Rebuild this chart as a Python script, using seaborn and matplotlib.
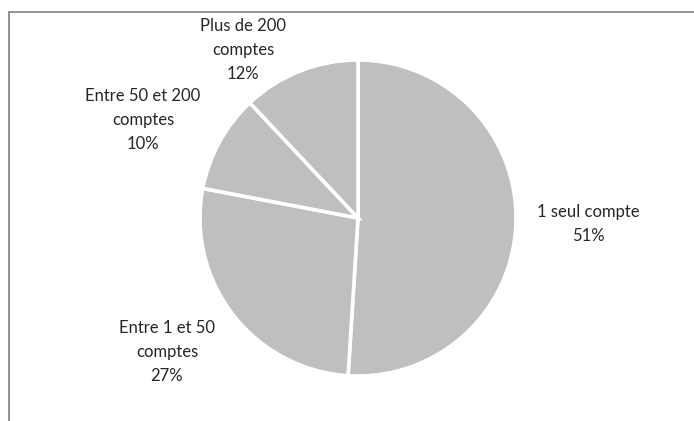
import matplotlib
matplotlib.use("Agg")
import matplotlib.pyplot as plt
from matplotlib.lines import Line2D
import seaborn as sns

# Répartition des clients selon le nombre de comptes
categories = ["1 seul compte", "Entre 1 et 50\ncomptes", "Entre 50 et 200\ncomptes", "Plus de 200\ncomptes"]
shares = [51, 27, 10, 12]

sns.set_style("white")
plt.rcParams["font.family"] = ["Lato", "DejaVu Sans"]

W, H = 694, 421
fig = plt.figure(figsize=(W / 100, H / 100), dpi=100)
ax = fig.add_axes([0, 0, 1, 1])

ax.pie(
    shares,
    startangle=90,
    counterclock=False,
    colors=["#BFBFBF"] * len(shares),
    wedgeprops=dict(edgecolor="white", linewidth=2.6),
    center=(358, H - 218),
    radius=158,
    frame=True,
)

# Label anchors (pixel space, top-left origin)
label_pos = [(588, 224), (167, 352), (143, 120), (243, 50)]
for cat, val, (x, y) in zip(categories, shares, label_pos):
    ax.text(x, H - y, f"{cat}\n{val}%", ha="center", va="center",
            fontsize=12, color="#262626", linespacing=1.6)

ax.set_xlim(0, W)
ax.set_ylim(0, H)
ax.set_aspect("equal")
ax.axis("off")

# Chart area frame (left and top edges)
frame_kw = dict(color="#8a8a8a", linewidth=1.3, transform=fig.transFigure)
fig.add_artist(Line2D([9 / W, 9 / W], [0, 1 - 12 / H], **frame_kw))
fig.add_artist(Line2D([9 / W, 1], [1 - 12 / H, 1 - 12 / H], **frame_kw))

fig.savefig("out.png", dpi=100, facecolor="white")
